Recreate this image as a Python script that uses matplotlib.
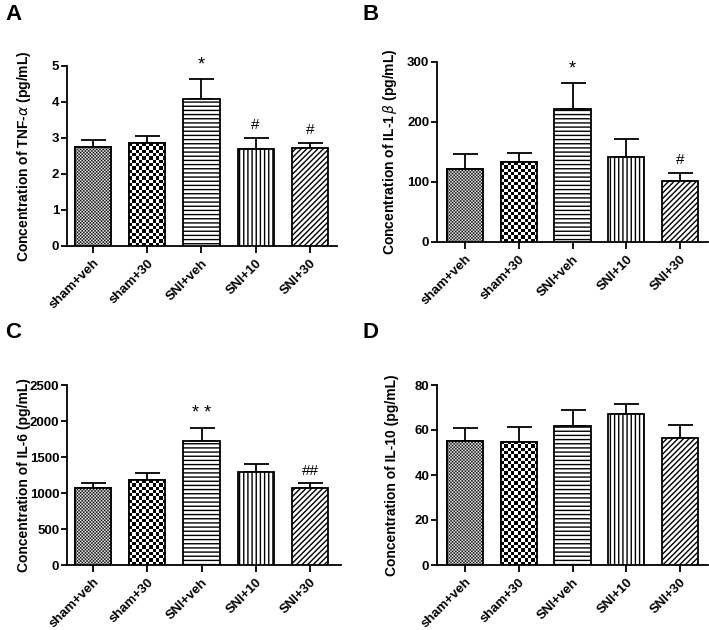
import numpy as np
import matplotlib
matplotlib.use('Agg')
import matplotlib.pyplot as plt

plt.rcParams['font.family'] = ['Liberation Sans', 'DejaVu Sans']
plt.rcParams['hatch.linewidth'] = 1.0

groups = ['sham+veh', 'sham+30', 'SNI+veh', 'SNI+10', 'SNI+30']

# panel A: TNF-alpha
tnf_mean = [2.75, 2.86, 4.08, 2.70, 2.72]
tnf_err = [0.20, 0.20, 0.55, 0.30, 0.15]
tnf_marks = ['', '', '*', '#', '#']

# panel B: IL-1 beta
il1b_mean = [122, 133, 221, 141, 101]
il1b_err = [25, 15, 44, 30, 14]
il1b_marks = ['', '', '*', '', '#']

# panel C: IL-6
il6_mean = [1070, 1180, 1720, 1290, 1070]
il6_err = [65, 100, 185, 110, 65]
il6_marks = ['', '', '* *', '', '##']

# panel D: IL-10
il10_mean = [55.2, 54.8, 62.0, 67.2, 56.3]
il10_err = [5.5, 6.4, 6.8, 4.3, 6.0]
il10_marks = ['', '', '', '', '']

W, H = 709, 630
fig = plt.figure(figsize=(W / 100, H / 100), dpi=100)


def checker(ax, bar, sq):
    # checkerboard fill inside the bar, clipped to it
    x0, y0 = bar.get_x(), bar.get_y()
    x1, y1 = x0 + bar.get_width(), y0 + bar.get_height()
    p0 = ax.transData.transform((x0, y0))
    p1 = ax.transData.transform((x1, y1))
    nc = max(1, int(round(abs(p1[0] - p0[0]) / sq)))
    nr = max(1, int(round(abs(p1[1] - p0[1]) / sq)))
    board = (np.add.outer(np.arange(nr), np.arange(nc)) % 2).astype(float)
    im = ax.imshow(board, cmap='gray', extent=(x0, x1, y0, y1), aspect='auto',
                   interpolation='antialiased', zorder=3.5, vmin=0, vmax=1)
    im.set_clip_path(bar)


def panel(box, letter, letter_xy, lab_x, means, errs, marks, ymax, ystep, ylabel, xlim):
    left, top, right, bottom = box
    ax = fig.add_axes([left / W, 1 - bottom / H, (right - left) / W, (bottom - top) / H])
    ax.set_xlim(*xlim)
    ax.set_ylim(0, ymax)
    x = np.arange(len(groups))
    hatches = [None, None, '----', '||||', '//////']
    bars = ax.bar(x, means, width=0.67, color='white', edgecolor='black',
                  linewidth=1.3, zorder=3)
    for b, h in zip(bars, hatches):
        if h:
            b.set_hatch(h)
    for i, sq in [(0, 1.6), (1, 3.3)]:
        b = bars[i]
        checker(ax, b, sq)
        outline = plt.Rectangle((b.get_x(), 0), b.get_width(), b.get_height(),
                                fill=False, edgecolor='black', linewidth=1.3, zorder=4)
        ax.add_patch(outline)
    ax.set_xlim(*xlim)
    ax.set_ylim(0, ymax)
    ax.errorbar(x, means, yerr=[np.zeros(len(means)), errs], fmt='none',
                ecolor='black', elinewidth=1.3, capsize=9, capthick=1.3, zorder=2)
    for xi, m, e, t in zip(x, means, errs, marks):
        if t:
            fs = 13 if '*' in t else 11
            ax.annotate(t, (xi, m + e), xytext=(0, 4), textcoords='offset points',
                        ha='center', va='bottom', fontsize=fs)
    for s in ['top', 'right']:
        ax.spines[s].set_visible(False)
    for s in ['left', 'bottom']:
        ax.spines[s].set_linewidth(1.3)
    ax.set_yticks(np.arange(0, ymax + ystep / 2, ystep))
    ax.set_xticks(x)
    ax.set_xticklabels(groups, rotation=45, ha='right', rotation_mode='anchor',
                       fontsize=9.5, fontweight='bold')
    ax.tick_params(axis='x', length=5, width=1.3, pad=3)
    ax.tick_params(axis='y', length=4.5, width=1.3, pad=1, labelsize=9.5)
    for lab in ax.get_yticklabels():
        lab.set_fontweight('bold')
    ax.set_ylabel(ylabel, fontsize=10, fontweight='bold')
    # right edge of the rotated label, in figure pixels
    ax.yaxis.set_label_coords((lab_x - left) / (right - left), 0.5)
    fig.text(letter_xy[0] / W, 1 - letter_xy[1] / H, letter,
             fontsize=16, fontweight='bold', va='top', ha='left')
    return ax


panel((67, 66, 337, 246), 'A', (5, 4), 33, tnf_mean, tnf_err, tnf_marks, 5, 1,
      r'Concentration of TNF-$\alpha$ (pg/mL)', (-0.48, 4.5))
panel((437, 62, 708, 242), 'B', (363, 4), 399, il1b_mean, il1b_err, il1b_marks, 300, 100,
      r'Concentration of IL-1$\,\beta$ (pg/mL)', (-0.52, 4.52))
panel((67, 385, 341, 565), 'C', (5, 322), 31, il6_mean, il6_err, il6_marks, 2500, 500,
      'Concentration of IL-6 (pg/mL)', (-0.48, 4.57))
panel((437, 385, 708, 565), 'D', (363, 322), 399, il10_mean, il10_err, il10_marks, 80, 20,
      'Concentration of IL-10 (pg/mL)', (-0.52, 4.52))

fig.savefig('out.png', dpi=100)
